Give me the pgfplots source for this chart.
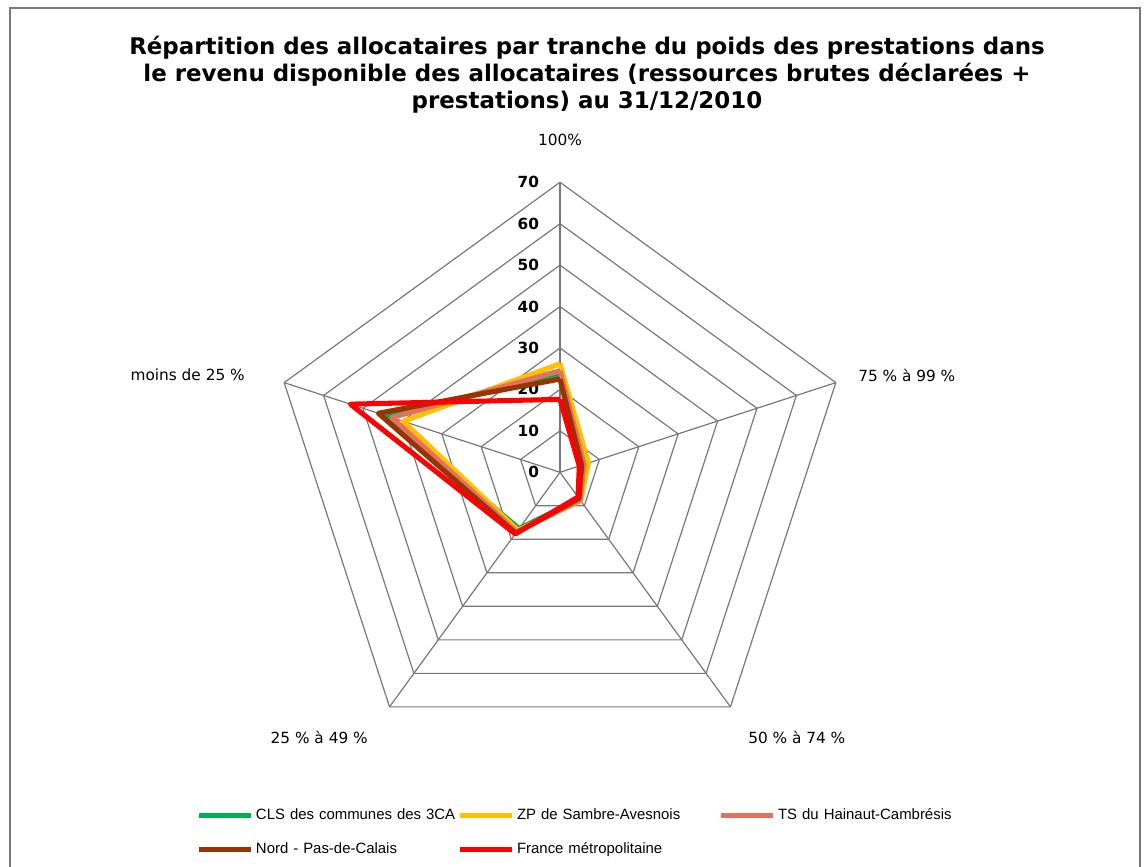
\documentclass[border=0pt]{standalone}
\usepackage{pgfplots}
\pgfplotsset{compat=1.18}
\usepgfplotslibrary{polar}
\usepackage{fontspec}
\setmainfont{DejaVu Sans}
\newfontfamily\arial{Liberation Sans}
\definecolor{gridc}{RGB}{120,120,120}
\definecolor{cgreen}{RGB}{0,176,80}
\definecolor{cyellow}{RGB}{255,192,0}
\definecolor{csalmon}{RGB}{228,112,96}
\definecolor{cbrown}{RGB}{153,51,0}
\definecolor{cred}{RGB}{255,0,0}
\begin{document}
\begin{tikzpicture}
\useasboundingbox (0,0) rectangle (860.25pt,-650.25pt);
\draw[gridc, line width=0.9pt] (7.5pt,-660pt) -- (7.5pt,-6pt) -- (855pt,-6pt) -- (855pt,-660pt);
\node[font=\bfseries\fontsize{17.2}{20.25}\selectfont, align=center] at (440.25pt,-56pt)
 {Répartition des allocataires par tranche du poids des prestations dans\\le revenu disponible des allocataires (ressources brutes déclarées +\\prestations) au 31/12/2010};
\begin{scope}[every node/.style={font=\fontsize{11.5}{13}\selectfont, inner sep=0pt}]
\node[anchor=center] at (420pt,-105pt) {100\%};
\node[anchor=west] at (643.5pt,-281.25pt) {75 \% à 99 \%};
\node[anchor=west] at (561pt,-552.75pt) {50 \% à 74 \%};
\node[anchor=east] at (276pt,-552.75pt) {25 \% à 49 \%};
\node[anchor=east] at (183.75pt,-281.25pt) {moins de 25 \%};
\end{scope}
\begin{polaraxis}[
  at={(420pt,-354.2pt)}, anchor=center,
  scale only axis, width=435pt, height=435pt,
  xmin=0, xmax=360, ymin=0, ymax=70,
  hide axis, clip=false,
  legend columns=3,
  legend style={draw=none, fill=none, font=\arial\fontsize{11.2}{13}\selectfont,
    at={(-0.1345,-0.073)}, anchor=north west,
    nodes={text width=151pt, align=left, inner sep=1pt},
    /tikz/every odd column/.append style={column sep=1pt},
    /tikz/every even column/.append style={column sep=-1pt},
    row sep=13.5pt},
  legend cell align=left,
  legend image code/.code={\draw[#1] (0pt,0pt) -- (39pt,0pt);},
]
% grid rings
\addplot[gridc, line width=0.9pt, forget plot] coordinates {(90,10) (18,10) (306,10) (234,10) (162,10) (90,10)};
\addplot[gridc, line width=0.9pt, forget plot] coordinates {(90,20) (18,20) (306,20) (234,20) (162,20) (90,20)};
\addplot[gridc, line width=0.9pt, forget plot] coordinates {(90,30) (18,30) (306,30) (234,30) (162,30) (90,30)};
\addplot[gridc, line width=0.9pt, forget plot] coordinates {(90,40) (18,40) (306,40) (234,40) (162,40) (90,40)};
\addplot[gridc, line width=0.9pt, forget plot] coordinates {(90,50) (18,50) (306,50) (234,50) (162,50) (90,50)};
\addplot[gridc, line width=0.9pt, forget plot] coordinates {(90,60) (18,60) (306,60) (234,60) (162,60) (90,60)};
\addplot[gridc, line width=0.9pt, forget plot] coordinates {(90,70) (18,70) (306,70) (234,70) (162,70) (90,70)};
% spokes
\addplot[gridc, line width=0.9pt, forget plot] coordinates {(90,0) (90,70)};
\addplot[gridc, line width=0.9pt, forget plot] coordinates {(18,0) (18,70)};
\addplot[gridc, line width=0.9pt, forget plot] coordinates {(306,0) (306,70)};
\addplot[gridc, line width=0.9pt, forget plot] coordinates {(234,0) (234,70)};
\addplot[gridc, line width=0.9pt, forget plot] coordinates {(162,0) (162,70)};
% radial labels
\begin{scope}[every node/.style={font=\bfseries\fontsize{11.5}{13}\selectfont, inner sep=0pt, anchor=east, xshift=-15.5pt}]
\node at (axis cs:90,0) {0};
\node at (axis cs:90,10) {10};
\node at (axis cs:90,20) {20};
\node at (axis cs:90,30) {30};
\node at (axis cs:90,40) {40};
\node at (axis cs:90,50) {50};
\node at (axis cs:90,60) {60};
\node at (axis cs:90,70) {70};
\end{scope}
% data
\addplot[cgreen, line width=3.8pt, line join=round] coordinates {(90,23.5) (18,5.8) (306,8.0) (234,16.8) (162,44.2) (90,23.5)};
\addlegendentry{CLS des communes des 3CA}
\addplot[cyellow, line width=3.8pt, line join=round] coordinates {(90,26.2) (18,7.2) (306,8.5) (234,17.3) (162,39.8) (90,26.2)};
\addlegendentry{ZP de Sambre-Avesnois}
\addplot[csalmon, line width=3.8pt, line join=round] coordinates {(90,24.5) (18,6.1) (306,8.3) (234,17.8) (162,42.7) (90,24.5)};
\addlegendentry{TS du Hainaut-Cambrésis}
\addplot[cbrown, line width=3.8pt, line join=round] coordinates {(90,22.5) (18,5.5) (306,7.8) (234,18.2) (162,46.1) (90,22.5)};
\addlegendentry{Nord - Pas-de-Calais}
\addplot[cred, line width=3.8pt, line join=round] coordinates {(90,17.6) (18,4.9) (306,7.4) (234,18.4) (162,53.2) (90,17.6)};
\addlegendentry{France métropolitaine}
\end{polaraxis}
\end{tikzpicture}
\end{document}
